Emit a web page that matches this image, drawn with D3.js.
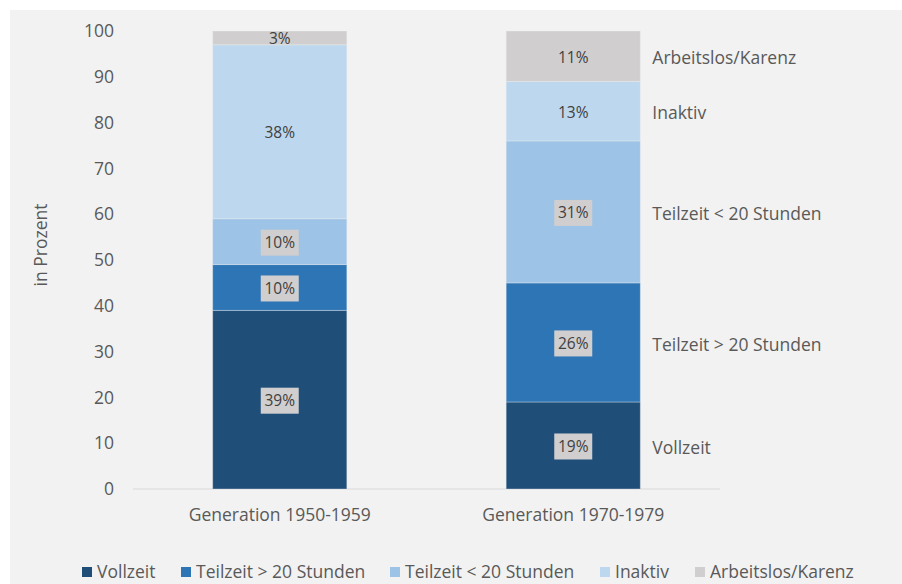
<!DOCTYPE html>
<html><head><meta charset="utf-8">
<script src="https://cdn.jsdelivr.net/npm/d3@7"></script>
<style>body{margin:0;background:#fff;} svg{display:block;}</style>
</head><body><svg id="c" width="902" height="584"></svg>
<script>
const categories = ["Generation 1950-1959", "Generation 1970-1979"];
const seriesNames = ["Vollzeit", "Teilzeit > 20 Stunden", "Teilzeit < 20 Stunden", "Inaktiv", "Arbeitslos/Karenz"];
const vollzeit = [39, 19];
const teilzeitUeber20 = [10, 26];
const teilzeitUnter20 = [10, 31];
const inaktiv = [38, 13];
const arbeitslos = [3, 11];
const yTicks = [0, 10, 20, 30, 40, 50, 60, 70, 80, 90, 100];
const colors = ["#1f4e79", "#2e75b6", "#9dc3e6", "#bdd7ee", "#d0cece"];
const boxedSeries = [true, true, true, false, false];

const seriesValues = [vollzeit, teilzeitUeber20, teilzeitUnter20, inaktiv, arbeitslos];
const rows = categories.map((c, i) => {
  const r = {cat: c};
  seriesNames.forEach((s, k) => r[s] = seriesValues[k][i]);
  return r;
});
const stacked = d3.stack().keys(seriesNames)(rows);

const svg = d3.select("#c");
const font = "'Open Sans', sans-serif";
const txt = "#595959";
const fs = 17.5;
svg.append("rect").attr("x", 10).attr("y", 10).attr("width", 892).attr("height", 574).attr("fill", "#f2f2f2");

const x = d3.scaleBand().domain(categories).range([133, 720]).paddingInner(0.543).paddingOuter(0.2715);
const y = d3.scaleLinear().domain([0, 100]).range([489, 31]);

// baseline
svg.append("line").attr("x1", 133).attr("x2", 720).attr("y1", y(0)).attr("y2", y(0))
  .attr("stroke", "#d9d9d9").attr("stroke-width", 1);

// y axis labels
const yAxis = d3.axisLeft(y).tickValues(yTicks).tickSize(0).tickPadding(0);
const ga = svg.append("g").attr("transform", "translate(114,0)").call(yAxis);
ga.select(".domain").remove();
ga.selectAll("text").attr("font-family", font).attr("font-size", fs).attr("fill", txt);

// x axis labels
const xAxis = d3.axisBottom(x).tickSize(0).tickPadding(0);
const gx = svg.append("g").attr("transform", `translate(0,${y(0) + 20})`).call(xAxis);
gx.select(".domain").remove();
gx.selectAll("text").attr("font-family", font).attr("font-size", fs).attr("fill", txt);

// y title
svg.append("text").attr("transform", "translate(47,245) rotate(-90)").attr("text-anchor", "middle")
  .attr("font-family", font).attr("font-size", fs).attr("fill", txt).text("in Prozent");

// bars
stacked.forEach((layer, k) => {
  svg.append("g").selectAll("rect").data(layer).join("rect")
    .attr("x", d => x(d.data.cat)).attr("width", x.bandwidth())
    .attr("y", d => y(d[1])).attr("height", d => y(d[0]) - y(d[1]))
    .attr("fill", colors[k]).attr("stroke", "#f2f2f2").attr("stroke-opacity", 0.35).attr("stroke-width", 1);
});

// value labels
stacked.forEach((layer, k) => {
  layer.forEach(d => {
    const cx = x(d.data.cat) + x.bandwidth() / 2;
    const cy = (y(d[0]) + y(d[1])) / 2 + 1;
    const v = d[1] - d[0];
    if (boxedSeries[k]) {
      svg.append("rect").attr("x", cx - 19).attr("y", cy - 13).attr("width", 38).attr("height", 26).attr("fill", "#d0cece");
    }
    svg.append("text").attr("x", cx).attr("y", cy).attr("dy", "0.35em").attr("text-anchor", "middle")
      .attr("font-family", font).attr("font-size", 15.5).attr("fill", "#404040").text(v + "%");
  });
});

// right labels for second bar
const last = categories[categories.length - 1];
stacked.forEach((layer, k) => {
  const d = layer[layer.length - 1];
  svg.append("text").attr("x", x(last) + x.bandwidth() + 12).attr("y", (y(d[0]) + y(d[1])) / 2 + 2).attr("dy", "0.35em")
    .attr("font-family", font).attr("font-size", fs).attr("fill", txt).text(seriesNames[k]);
});

// legend
const legendX = [82, 181, 390, 600, 695];
seriesNames.forEach((s, k) => {
  svg.append("rect").attr("x", legendX[k]).attr("y", 567).attr("width", 10).attr("height", 10).attr("fill", colors[k]);
  svg.append("text").attr("x", legendX[k] + 15).attr("y", 572).attr("dy", "0.35em")
    .attr("font-family", font).attr("font-size", fs).attr("fill", txt).text(s);
});
</script></body></html>
